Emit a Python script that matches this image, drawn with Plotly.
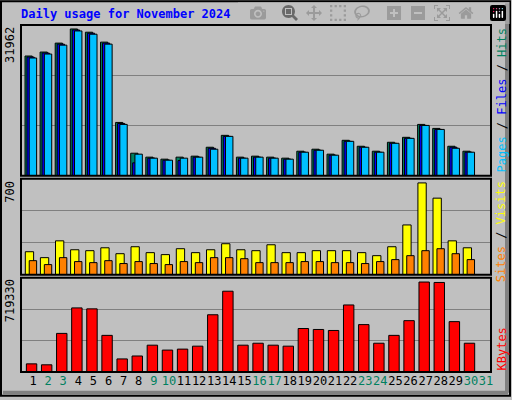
import plotly.graph_objects as go

days = list(range(1, 32))
hits = [26070, 26935, 28880, 31962, 31255, 29095, 11600, 4900, 4040, 3600, 4040, 4255, 6200, 8790, 4040,
        4255, 4040, 3820, 5335, 5770, 4690, 7710, 6415, 5335, 7280, 8360, 11170, 10300, 6415, 5335, 0]
files = [25850, 26720, 28660, 31750, 31040, 28880, 11380, 2800, 3820, 3380, 3300, 4040, 5980, 8570, 3820,
         4040, 3820, 3600, 5120, 5550, 4470, 7490, 6200, 5120, 7060, 8140, 10950, 10080, 6200, 5120, 0]
pages = [25640, 26500, 28440, 31530, 30820, 28660, 11170, 4690, 3820, 3380, 3820, 4040, 5770, 8570, 3820,
         4040, 3820, 3600, 5120, 5550, 4470, 7490, 6200, 5120, 7060, 8140, 10950, 10080, 5980, 5120, 0]
visits = [176, 131, 259, 191, 184, 206, 161, 214, 169, 154, 199, 169, 191, 237, 191,
          184, 229, 169, 169, 184, 184, 184, 169, 146, 214, 380, 700, 584, 259, 206, 0]
sites = [108, 78, 131, 101, 93, 108, 86, 101, 86, 78, 101, 93, 131, 131, 123,
         93, 93, 93, 101, 101, 93, 93, 86, 101, 116, 146, 184, 199, 161, 116, 0]
kbytes = [65000, 57500, 308600, 512500, 504700, 292900, 104600, 128000, 214400, 175200, 183000, 206600,
          457600, 645900, 214400, 230000, 214400, 206600, 347800, 340000, 332000, 536000, 379000, 230000,
          292900, 410600, 719330, 716000, 402700, 230000, 0]
weekend = {2, 3, 9, 10, 16, 17, 23, 24, 30, 31}

R1, R2, R3 = 32826, 732, 753000
line = dict(color="black", width=1)

fig = go.Figure()
fig.add_bar(x=days, y=hits, offset=-0.53, width=0.48, marker=dict(color="#00805F", line=line), xaxis="x", yaxis="y")
fig.add_bar(x=days, y=files, offset=-0.40, width=0.48, marker=dict(color="#0000FF", line=line), xaxis="x", yaxis="y")
fig.add_bar(x=days, y=pages, offset=-0.25, width=0.49, marker=dict(color="#00C0FF", line=line), xaxis="x", yaxis="y")
fig.add_bar(x=days, y=visits, offset=-0.51, width=0.55, marker=dict(color="#FFFF00", line=line), xaxis="x2", yaxis="y2")
fig.add_bar(x=days, y=sites, offset=-0.25, width=0.49, marker=dict(color="#FF8000", line=line), xaxis="x2", yaxis="y2")
fig.add_bar(x=days, y=kbytes, offset=-0.44, width=0.69, marker=dict(color="#FF0000", line=line), xaxis="x3", yaxis="y3")

xr = [0.205, 31.33]
xcommon = dict(range=xr, showgrid=False, zeroline=False, fixedrange=True)
ticktext = [f"<span style='color:{'#00805F' if d in weekend else 'black'}'>{d}</span>" for d in days]

def yax(R, dom):
    return dict(domain=dom, range=[0, R], tickvals=[R / 3, 2 * R / 3], showticklabels=False,
                gridcolor="#808080", gridwidth=1, zeroline=False, ticks="")

fig.update_layout(
    width=512, height=400, margin=dict(l=21, r=21, t=25, b=25),
    paper_bgcolor="#C0C0C0", plot_bgcolor="#C0C0C0", showlegend=False, barmode="overlay",
    font=dict(family="DejaVu Sans Mono", size=12, color="black"),
    xaxis=dict(**xcommon, showticklabels=False, anchor="y"),
    xaxis2=dict(**xcommon, showticklabels=False, anchor="y2", matches="x"),
    xaxis3=dict(**xcommon, anchor="y3", matches="x", tickvals=days, ticktext=ticktext, ticks="",
                tickangle=0, tickfont=dict(family="DejaVu Sans Mono", size=12)),
    yaxis=yax(R1, [0.5657, 1]),
    yaxis2=yax(R2, [0.28, 0.557]),
    yaxis3=yax(R3, [0, 0.2714]),
)

shapes = []
for xr_, yr_ in [("x domain", "y domain"), ("x2 domain", "y2 domain"), ("x3 domain", "y3 domain")]:
    shapes.append(dict(type="rect", xref=xr_, yref=yr_, x0=0, x1=1, y0=0, y1=1,
                       line=dict(color="black", width=2), layer="above"))
shapes.append(dict(type="rect", xref="paper", yref="paper", x0=-20/470, x1=1 + 19/470, y0=-24/350, y1=1 + 24/350,
                   line=dict(color="black", width=2)))
shapes.append(dict(type="line", xref="paper", yref="paper", x0=1 + 16/470, x1=1 + 16/470, y0=-21/350, y1=1 + 22/350,
                   line=dict(color="#808080", width=4)))
shapes.append(dict(type="line", xref="paper", yref="paper", x0=-18/470, x1=1 + 17/470, y0=-21/350, y1=-21/350,
                   line=dict(color="#808080", width=4)))
fig.update_layout(shapes=shapes)

ann = [
    dict(text="<b>Daily usage for November 2024</b>", x=-2/470, y=1 + 11/350, xref="paper", yref="paper",
         xanchor="left", yanchor="middle", showarrow=False, font=dict(color="#0000FF", size=12)),
    dict(text="31962", x=-11/470, y=1, xref="paper", yref="paper", xanchor="center", yanchor="top",
         textangle=-90, showarrow=False, font=dict(size=12)),
    dict(text="700", x=-11/470, y=0.557, xref="paper", yref="paper", xanchor="center", yanchor="top",
         textangle=-90, showarrow=False, font=dict(size=12)),
    dict(text="719330", x=-11/470, y=0.2714, xref="paper", yref="paper", xanchor="center", yanchor="top",
         textangle=-90, showarrow=False, font=dict(size=12)),
    dict(text="<span style='color:#00C0FF'>Pages</span> / <span style='color:#0000FF'>Files</span> / <span style='color:#00805F'>Hits</span>",
         x=1 + 10/470, y=1, xref="paper", yref="paper", xanchor="center", yanchor="top",
         textangle=-90, showarrow=False, font=dict(size=12)),
    dict(text="<span style='color:#FF8000'>Sites</span> / <span style='color:#FFFF00'>Visits</span>",
         x=1 + 10/470, y=0.557, xref="paper", yref="paper", xanchor="center", yanchor="top",
         textangle=-90, showarrow=False, font=dict(size=12)),
    dict(text="<span style='color:#FF0000'>KBytes</span>",
         x=1 + 10/470, y=0, xref="paper", yref="paper", xanchor="center", yanchor="bottom",
         textangle=-90, showarrow=False, font=dict(size=12)),
]
fig.update_layout(annotations=ann)
fig.write_html("out.html")

with open("out.html", encoding="utf-8") as f:
    html = f.read()
html = html.replace("<head>", "<head><style>html,body{margin:0;padding:0;overflow:hidden;}</style>", 1)
with open("out.html", "w", encoding="utf-8") as f:
    f.write(html)
